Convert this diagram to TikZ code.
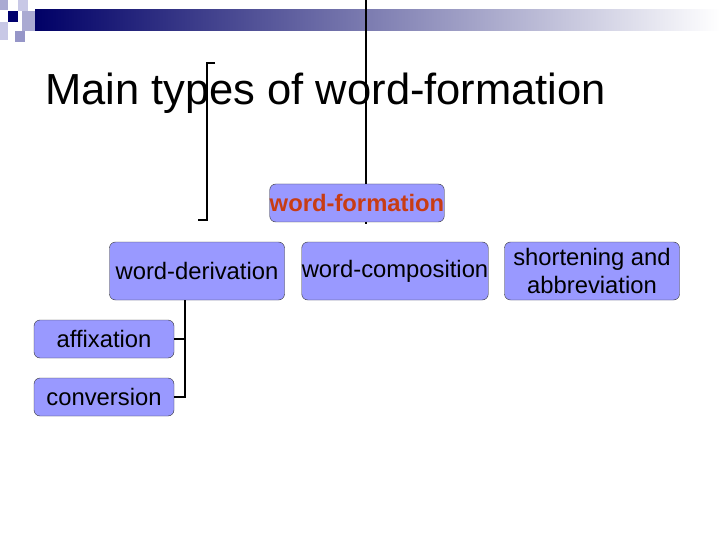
\documentclass[tikz,border=0pt]{standalone}
\usepackage{fontspec}
\setmainfont{Liberation Sans}
\definecolor{boxblue}{RGB}{153,153,255}
\definecolor{navy}{RGB}{0,0,102}
\definecolor{dnavy}{RGB}{0,0,110}
\definecolor{sqa}{RGB}{170,170,210}
\definecolor{sqb}{RGB}{200,200,230}
\definecolor{sqc}{RGB}{150,150,200}
\definecolor{wfred}{RGB}{200,60,20}
\begin{document}
\begin{tikzpicture}[x=1pt,y=-1pt,
  box/.style={draw=black!80,fill=boxblue,rounded corners=6pt,inner sep=0pt,font=\fontsize{23.8}{28}\selectfont,align=center},
  conn/.style={line width=2.5pt}]
\useasboundingbox (0,0) rectangle (720,540);
\fill[white] (0,0) rectangle (720,540);
% decoration
\shade[left color=navy,right color=white] (35,10) rectangle (720,31);
\fill[dnavy] (8,11) rectangle (18,22);
\fill[sqa] (0,0) rectangle (8,10);
\fill[sqb] (18,0) rectangle (28,11);
\fill[sqa] (22,11) rectangle (35,31);
\fill[sqb] (0,22) rectangle (8,40);
\fill[sqc] (15,31) rectangle (25,42);
% title
\node[anchor=base west,inner sep=0pt,font=\fontsize{43.5}{50}\selectfont] (title) at (45,105) {Main types of word-formation};
% lines
\coordinate (t1) at (366,0);
\coordinate (b1a) at (215,63);
\coordinate (b1b) at (207,63);
\coordinate (b1c) at (207,220);
\coordinate (b1d) at (198,220);
% boxes
\node[box,minimum width=154,minimum height=38,font=\fontsize{23.8}{28}\selectfont\bfseries,text=wfred] (wf) at (357,203) {word-formation};
\draw[conn] (t1) -- (wf.north -| t1);
\draw[conn] (wf.south -| t1) -- ++(0,2);
\draw[conn] (b1a) -- (b1b) -- (b1c) -- (b1d);
\node[box,minimum width=175,minimum height=58] (wd) at (197,271) {word-derivation};
\node[box,minimum width=174,minimum height=58] (wc) at (395,271) {word-composition};
\node[box,minimum width=175,minimum height=58] (sa) at (592,271) {shortening and\\abbreviation};
\node[box,minimum width=140,minimum height=38] (af) at (104,339) {affixation};
\node[box,minimum width=140,minimum height=38] (cv) at (104,397) {conversion};
\coordinate (v) at (185,300);
\draw[conn] (v) |- (cv.east);
\draw[conn] (af.east) -- (af.east -| v);
\end{tikzpicture}
\end{document}
